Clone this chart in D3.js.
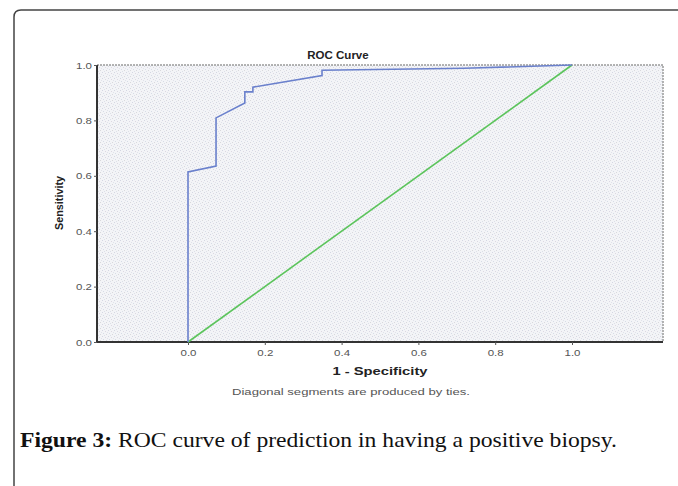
<!DOCTYPE html>
<html><head><meta charset="utf-8">
<script src="https://cdn.jsdelivr.net/npm/d3@7"></script>
<style>body{margin:0;background:#fff;}svg{display:block;}</style>
</head><body>
<svg id="c" width="678" height="486"></svg>
<script>
// ROC curve points (1 - specificity, sensitivity)
const fpr = [0, 0, 0.073, 0.073, 0.148, 0.148, 0.169, 0.169, 0.349, 0.349, 0.72, 1.0];
const tpr = [0, 0.614, 0.635, 0.809, 0.863, 0.903, 0.903, 0.920, 0.962, 0.981, 0.988, 1.0];
const refLine = [[0, 0], [1, 1]];
const xTicks = [0.0, 0.2, 0.4, 0.6, 0.8, 1.0];
const yTicks = [0.0, 0.2, 0.4, 0.6, 0.8, 1.0];
const title = "ROC Curve";
const xLabel = "1 - Specificity";
const yLabel = "Sensitivity";
const note = "Diagonal segments are produced by ties.";
const captionBold = "Figure 3:";
const captionText = " ROC curve of prediction in having a positive biopsy.";

const svg = d3.select("#c");
const L = 97, R = 663, T = 65, B = 342;
const x = d3.scaleLinear().domain([-0.237, 1.237]).range([L, R]);
const y = d3.scaleLinear().domain([0, 1]).range([B, T]);

// frame
svg.append("path")
  .attr("d", "M14,486 L14,17 Q14,10 21,10 L690,10")
  .attr("fill", "none").attr("stroke", "#444").attr("stroke-width", 1.5);

// stipple pattern
const defs = svg.append("defs");
const pat = defs.append("pattern").attr("id", "st").attr("width", 6).attr("height", 6)
  .attr("patternUnits", "userSpaceOnUse");
pat.append("rect").attr("width", 6).attr("height", 6).attr("fill", "#f3f4f7");
[[0,0,"#d4d6e2"],[3,1,"#dcd8e2"],[1,3,"#d6dce6"],[4,4,"#d8d8dc"],[5,2,"#e0e2ea"],[2,5,"#dde0e8"]].forEach(d=>{
  pat.append("rect").attr("x", d[0]).attr("y", d[1]).attr("width", 1).attr("height", 1).attr("fill", d[2]);
});

svg.append("rect").attr("x", L).attr("y", T).attr("width", R - L).attr("height", B - T)
  .attr("fill", "url(#st)").attr("stroke", "#9a9a9a").attr("stroke-width", 1.5)
  .attr("stroke-dasharray", "2,1");

const font = "Liberation Sans, Arial, sans-serif";
// axes
const yAxis = svg.append("g").attr("transform", `translate(${L},0)`)
  .call(d3.axisLeft(y).tickValues(yTicks).tickFormat(d3.format(".1f")).tickSize(3).tickPadding(2));
const xAxis = svg.append("g").attr("transform", `translate(0,${B})`)
  .call(d3.axisBottom(x).tickValues(xTicks).tickFormat(d3.format(".1f")).tickSize(3).tickPadding(4));
[yAxis, xAxis].forEach(g => {
  g.select(".domain").attr("stroke", "#333").attr("stroke-width", 2);
  g.selectAll(".tick line").attr("stroke", "#555");
  g.selectAll(".tick text").attr("font-family", font)
    .attr("font-size", 9.5).attr("fill", "#555")
    .attr("textLength", 16).attr("lengthAdjust", "spacingAndGlyphs");
});
xAxis.select(".domain").attr("d", `M${L},0H${R}`);
yAxis.select(".domain").attr("d", `M0,${B}V${T}`);

// reference diagonal
svg.append("path").datum(refLine)
  .attr("d", d3.line().x(d => x(d[0])).y(d => y(d[1])))
  .attr("fill", "none").attr("stroke", "#5cc45c").attr("stroke-width", 1.6);

// ROC curve
const pts = fpr.map((f, i) => [f, tpr[i]]);
svg.append("path").datum(pts)
  .attr("d", d3.line().x(d => x(d[0])).y(d => y(d[1])))
  .attr("fill", "none").attr("stroke", "#6a80cc").attr("stroke-width", 1.6);

svg.append("text").attr("x", 338).attr("y", 59).attr("text-anchor", "middle")
  .attr("font-family", font).attr("font-weight", "bold").attr("font-size", 11.5).attr("fill", "#222").text(title);
svg.append("text").attr("x", 380).attr("y", 375).attr("text-anchor", "middle")
  .attr("font-family", font).attr("font-weight", "bold").attr("font-size", 11.5).attr("fill", "#222")
  .attr("textLength", 95).attr("lengthAdjust", "spacingAndGlyphs").text(xLabel);
svg.append("text").attr("transform", "translate(63,203) rotate(-90)").attr("text-anchor", "middle")
  .attr("font-family", font).attr("font-weight", "bold").attr("font-size", 10.5).attr("fill", "#222")
  .attr("textLength", 54).attr("lengthAdjust", "spacingAndGlyphs").text(yLabel);
svg.append("text").attr("x", 351).attr("y", 395).attr("text-anchor", "middle")
  .attr("font-family", font).attr("font-size", 9.5).attr("fill", "#555")
  .attr("textLength", 238).attr("lengthAdjust", "spacingAndGlyphs").text(note);

const cap = svg.append("text").attr("x", 20).attr("y", 447)
  .attr("font-family", "Liberation Serif, Times New Roman, serif").attr("font-size", 21).attr("fill", "#111")
  .attr("textLength", 597).attr("lengthAdjust", "spacingAndGlyphs");
cap.append("tspan").attr("font-weight", "bold").text(captionBold);
cap.append("tspan").text(captionText);
</script>
</body></html>
